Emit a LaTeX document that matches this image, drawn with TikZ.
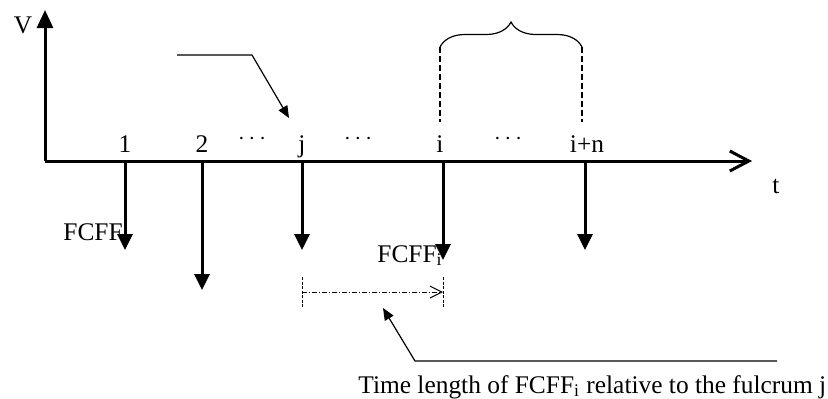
\documentclass[tikz,border=0pt]{standalone}
\usepackage{fontspec}
\setmainfont{Liberation Serif}
\usetikzlibrary{arrows.meta,decorations.pathreplacing}

\begin{document}
\begin{tikzpicture}[x=0.5pt,y=-0.5pt,
		axis/.style={line width=1.5pt},
		flow/.style={line width=1.5pt,-{Triangle[length=8pt,width=7.5pt]}},
		pointer/.style={line width=0.6pt,-{Triangle[length=6pt,width=5pt]}},
		lbl/.style={inner sep=0pt,anchor=base,font=\fontsize{12.7}{15}\selectfont}]
			\useasboundingbox (0,0) rectangle (828,398);
			
			% Axes
			\coordinate (O) at (45,161);
			\coordinate (vtop) at (45,10);
			\coordinate (tend) at (752,161);
			\draw[axis,-{Triangle[length=9pt,width=8pt]}] (O) -- (vtop);
			\draw[axis,-{Straight Barb[length=9.5pt,width=10pt]}] (O) -- (tend);
			\node[lbl] (vlab) at (23,33) {V};
			\node[lbl] (tlab) at (776,193) {t};
			
			% Cash flow labels (under the arrows)
			\node[lbl,anchor=base west] (fcff) at (63,240) {FCFF};
			\node[lbl,anchor=base west] (fcffi) at (377,262) {FCFF\textsubscript{i}};
			
			% Cash flows
			\foreach \n/\x/\y in {1/125/250, 2/202/290, j/302/250, i/443/260, in/585/250} {
				\coordinate (a\n) at (\x,161);
				\coordinate (f\n) at (\x,\y);
				\draw[flow] (a\n) -- (f\n);
			}
			
			% Period labels
			\node[lbl] (l1) at (125,152) {1};
			\node[lbl] (l2) at (202,152) {2};
			\node[lbl] (lj) at (302,152) {j};
			\node[lbl] (li) at (440,152) {i};
			\node[lbl] (lin) at (587,152) {i+n};
			\foreach \x in {252,358,508}
				\node[lbl,anchor=center] at (\x,139) {$\cdots$};
			
			% Pointer to the fulcrum
			\coordinate (p1) at (177,55);
			\coordinate (p2) at (252,55);
			\coordinate (p3) at (289,118);
			\draw[pointer] (p1) -- (p2) -- (p3);
			
			% Brace over i ... i+n
			\coordinate (bl) at (440,47);
			\coordinate (br) at (582,47);
			\coordinate (bld) at (440,122);
			\coordinate (brd) at (582,122);
			\draw[line width=0.6pt,decorate,decoration={brace,amplitude=12.5pt}] (bl) -- (br);
			\draw[line width=0.6pt,dash pattern=on 3pt off 1.5pt] (bl) -- (bld);
			\draw[line width=0.6pt,dash pattern=on 3pt off 1.5pt] (br) -- (brd);
			
			% Time length from j to i
			\coordinate (dj) at (302,292);
			\coordinate (di) at (443,292);
			\coordinate (djt) at (302,277);
			\coordinate (djb) at (302,307);
			\coordinate (dit) at (443,277);
			\coordinate (dib) at (443,307);
			\draw[line width=0.5pt,dash pattern=on 1.5pt off 0.75pt] (djt) -- (djb);
			\draw[line width=0.5pt,dash pattern=on 1.5pt off 0.75pt] (dit) -- (dib);
			\draw[line width=0.5pt,dash pattern=on 2.5pt off 1pt on 0.5pt off 1pt,
				-{Straight Barb[length=6pt,width=6pt]}] (dj) -- (di);
			
			% Note
			\coordinate (q1) at (777,361);
			\coordinate (q2) at (415,361);
			\coordinate (q3) at (383,308);
			\draw[pointer] (q1) -- (q2) -- (q3);
			\node[lbl,anchor=base west] (note) at (358,393) {Time length of FCFF\textsubscript{i} relative to the fulcrum j};
		\end{tikzpicture}
\end{document}
